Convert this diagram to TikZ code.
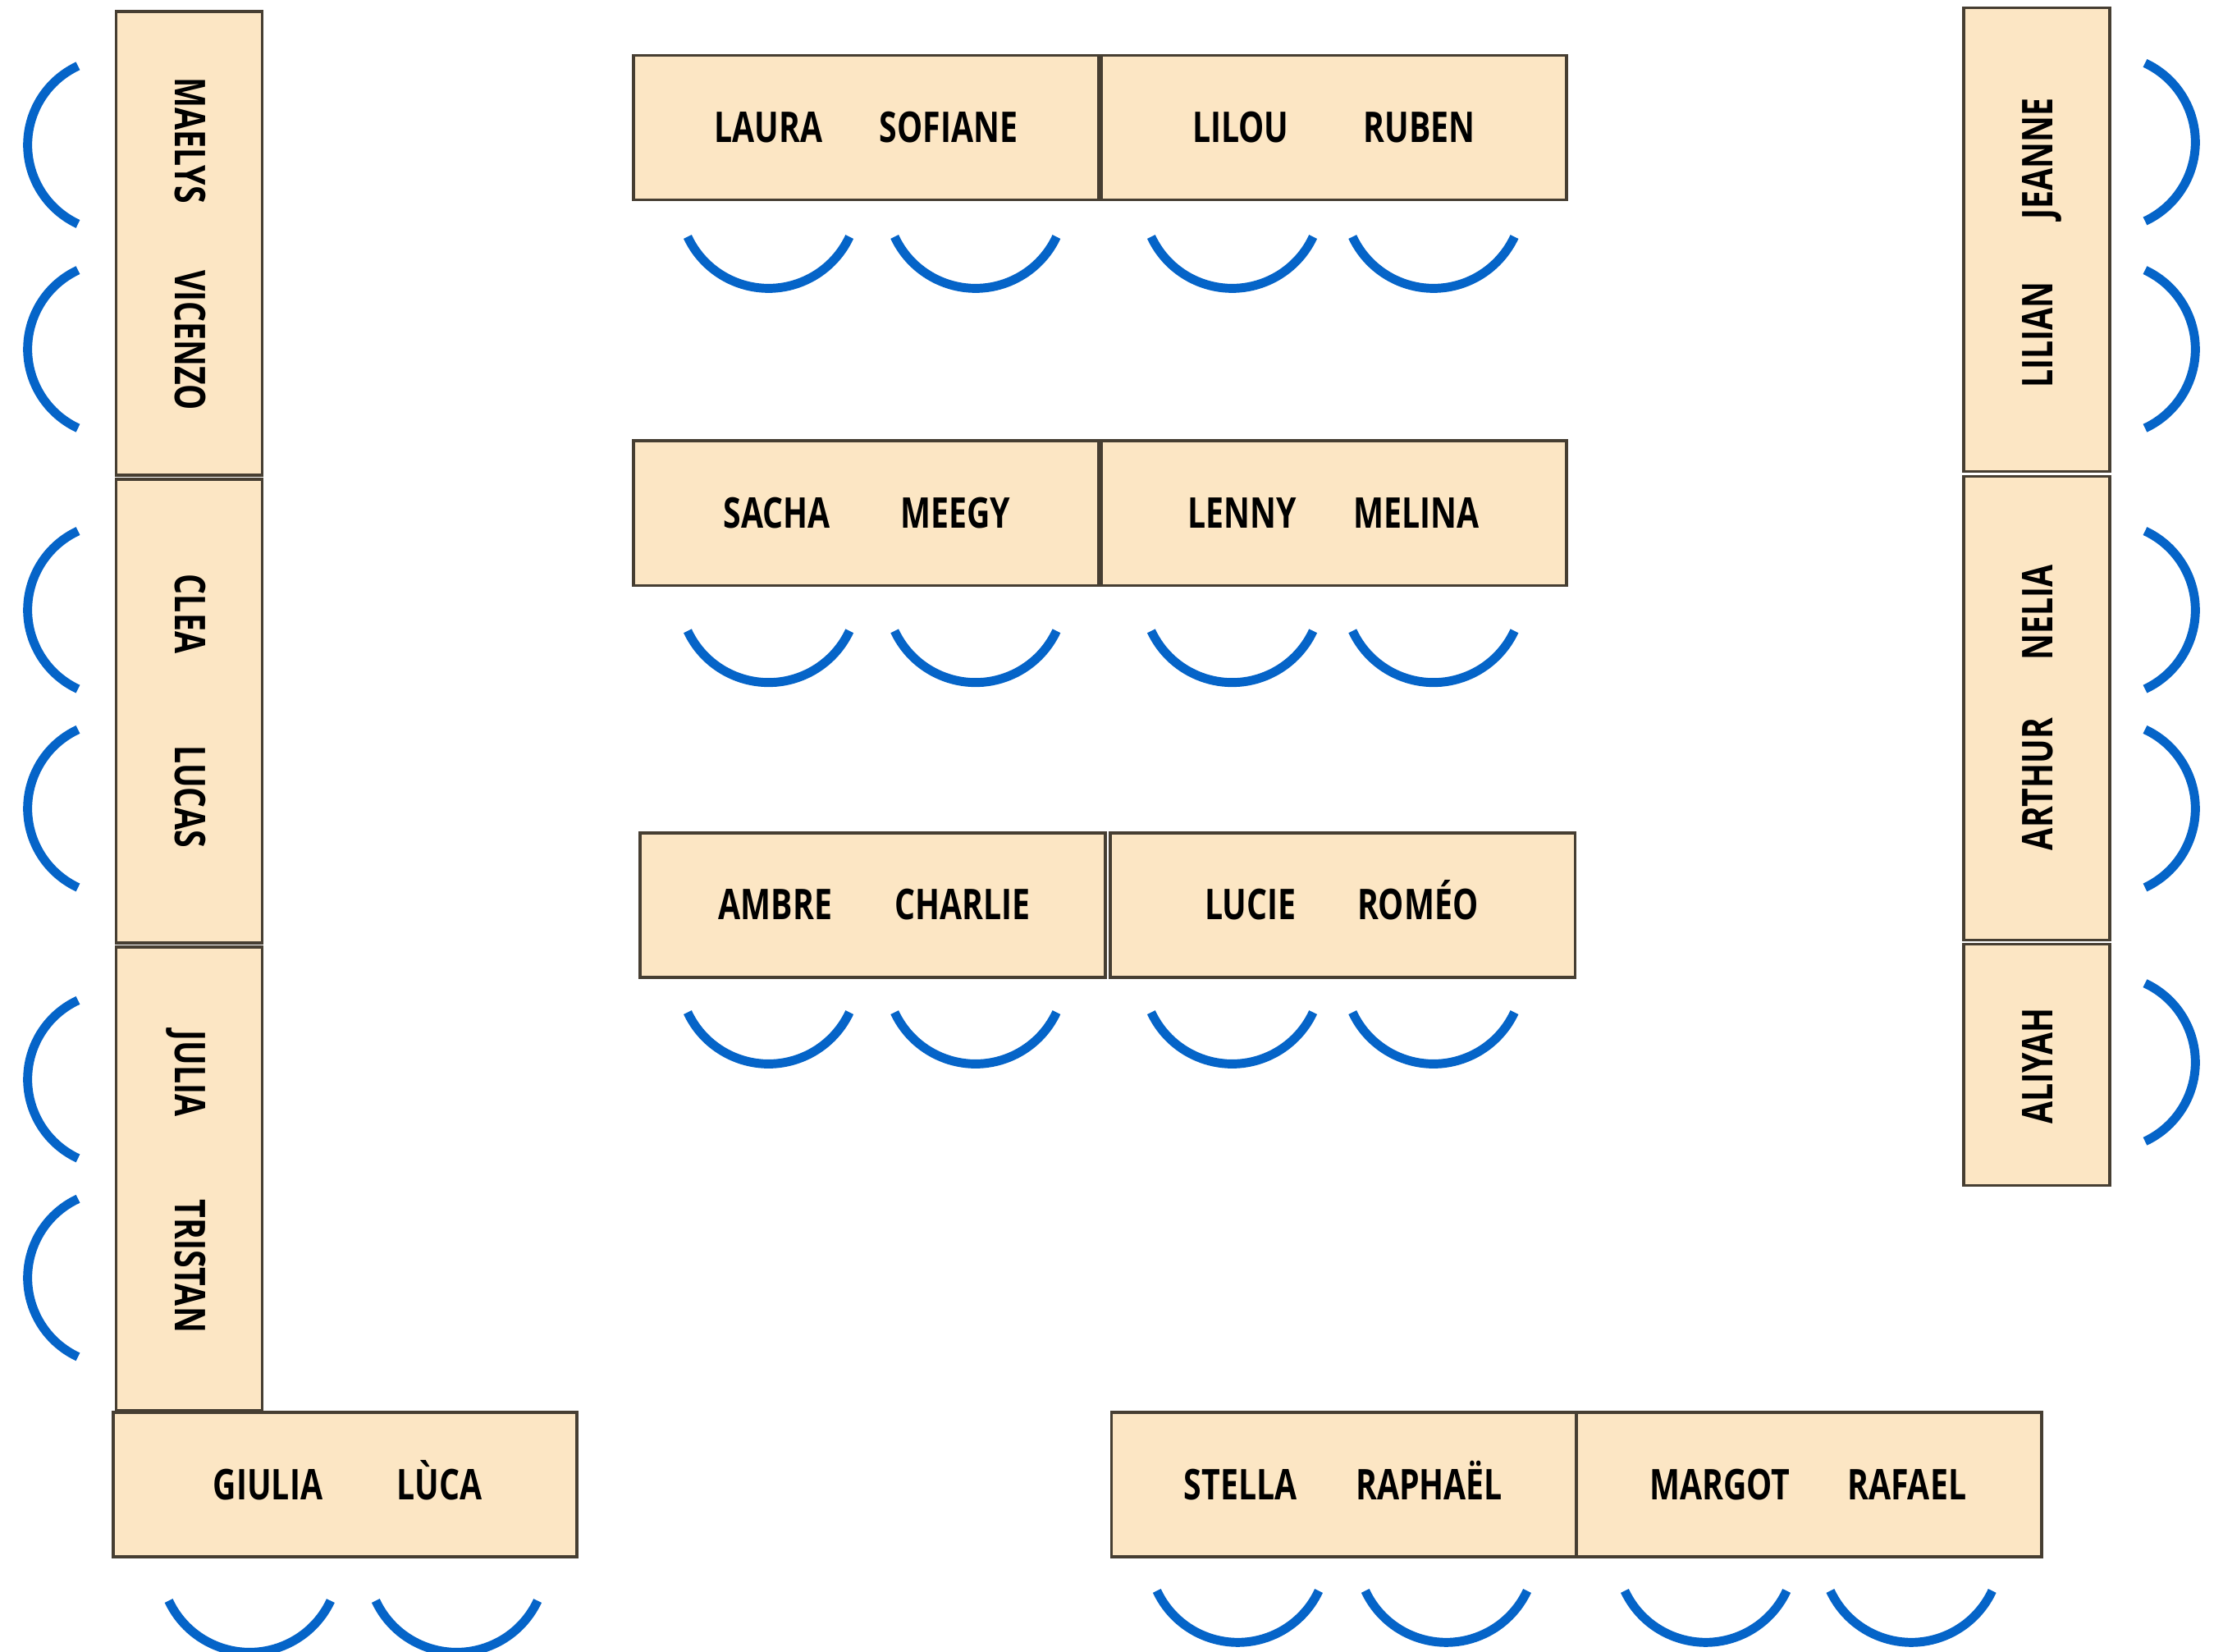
\documentclass[tikz,border=0pt]{standalone}
\usepackage{fontspec}
\newfontfamily\namefont{Open Sans}[FakeStretch=0.76]
\definecolor{tablefill}{RGB}{252,230,196}
\definecolor{tableline}{RGB}{70,62,50}
\definecolor{seatblue}{RGB}{5,100,200}

\begin{document}
\begin{tikzpicture}[x=0.1mm,y=-0.1mm]
	\tikzstyle{Table} = [rectangle, draw=tableline, fill=tablefill, line width=0.6pt, inner sep=0pt]
	\tikzstyle{Long} = [Table, minimum width=32.8mm, minimum height=10.2mm]
	\tikzstyle{Tall} = [Table, minimum width=10.3mm, minimum height=32.7mm]
	\tikzstyle{Name} = [font=\namefont\bfseries\fontsize{8.5}{10}\selectfont, text height=2.13mm, text depth=0pt, inner sep=0pt]
	\tikzstyle{Seat} = [draw=seatblue, line width=1.8pt]

	\useasboundingbox (0,0) rectangle (1568,1165);

	% left wall
	\node (left1) [Tall] at (133.5,171.5) {};
	\node (left2) [Tall] at (133.5,501.5) {};
	\node (left3) [Tall] at (133.5,831.5) {};
	\node (corner) [Long, minimum width=32.7mm] at (243.5,1047) {};

	\node (maelys) [Name, rotate=-90] at (134,99) {MAELYS};
	\node (vicenzo) [Name, rotate=-90] at (134,240) {VICENZO};
	\node (clea) [Name, rotate=-90] at (134,433) {CLEA};
	\node (lucas) [Name, rotate=-90] at (134,562) {LUCAS};
	\node (julia) [Name, rotate=-90] at (134,757) {JULIA};
	\node (tristan) [Name, rotate=-90] at (134,893) {TRISTAN};
	\node (giulia) [Name] at (189,1047) {GIULIA};
	\node (luca) [Name] at (310,1047) {LÙCA};

	% middle rows
	\node (row1a) [Long] at (611,90) {};
	\node (row1b) [Long] at (941,90) {};
	\node (row2a) [Long] at (611,362) {};
	\node (row2b) [Long] at (941,362) {};
	\node (row3a) [Long] at (615.5,638.5) {};
	\node (row3b) [Long] at (947,638.5) {};

	\node (laura) [Name] at (542,90) {LAURA};
	\node (sofiane) [Name] at (669,90) {SOFIANE};
	\node (lilou) [Name] at (875,90) {LILOU};
	\node (ruben) [Name] at (1001,90) {RUBEN};
	\node (sacha) [Name] at (548,362) {SACHA};
	\node (meegy) [Name] at (674,362) {MEEGY};
	\node (lenny) [Name] at (876,362) {LENNY};
	\node (melina) [Name] at (999,362) {MELINA};
	\node (ambre) [Name] at (547,638) {AMBRE};
	\node (charlie) [Name] at (679,638) {CHARLIE};
	\node (lucie) [Name] at (882,638) {LUCIE};
	\node (romeo) [Name] at (1000,638) {ROMÉO};

	% bottom right
	\node (back1) [Long] at (948,1047) {};
	\node (back2) [Long] at (1276,1047) {};

	\node (stella) [Name] at (875,1047) {STELLA};
	\node (raphael) [Name] at (1008,1047) {RAPHAËL};
	\node (margot) [Name] at (1213,1047) {MARGOT};
	\node (rafael) [Name] at (1345,1047) {RAFAEL};

	% right wall
	\node (right1) [Tall] at (1436.5,169) {};
	\node (right2) [Tall] at (1436.5,499.5) {};
	\node (right3) [Tall, minimum height=17mm] at (1436.5,751) {};

	\node (jeanne) [Name, rotate=90] at (1437,112) {JEANNE};
	\node (lilian) [Name, rotate=90] at (1437,236) {LILIAN};
	\node (nelia) [Name, rotate=90] at (1437,432) {NELIA};
	\node (arthur) [Name, rotate=90] at (1437,553) {ARTHUR};
	\node (aliyah) [Name, rotate=90] at (1437,752) {ALIYAH};

	% chairs
	\foreach \y in {102,246,430,570,761,901}
		\draw [Seat] (55,\y-55.5) arc [start angle=115, end angle=245, radius=6.15mm];
	\foreach \y in {100,246,430,570,749}
		\draw [Seat] (1513,\y-55.5) arc [start angle=65, end angle=-65, radius=6.15mm];
	\foreach \x in {542,688,869,1011} {
		\draw [Seat] (\x-57,167) arc [start angle=205, end angle=335, radius=6.3mm];
		\draw [Seat] (\x-57,445) arc [start angle=205, end angle=335, radius=6.3mm];
		\draw [Seat] (\x-57,714) arc [start angle=205, end angle=335, radius=6.3mm];
	}
	\foreach \x in {873,1020,1203,1348}
		\draw [Seat] (\x-57,1122) arc [start angle=205, end angle=335, radius=6.3mm];
	\foreach \x in {176,322}
		\draw [Seat] (\x-57,1129) arc [start angle=205, end angle=335, radius=6.3mm];
\end{tikzpicture}
\end{document}
